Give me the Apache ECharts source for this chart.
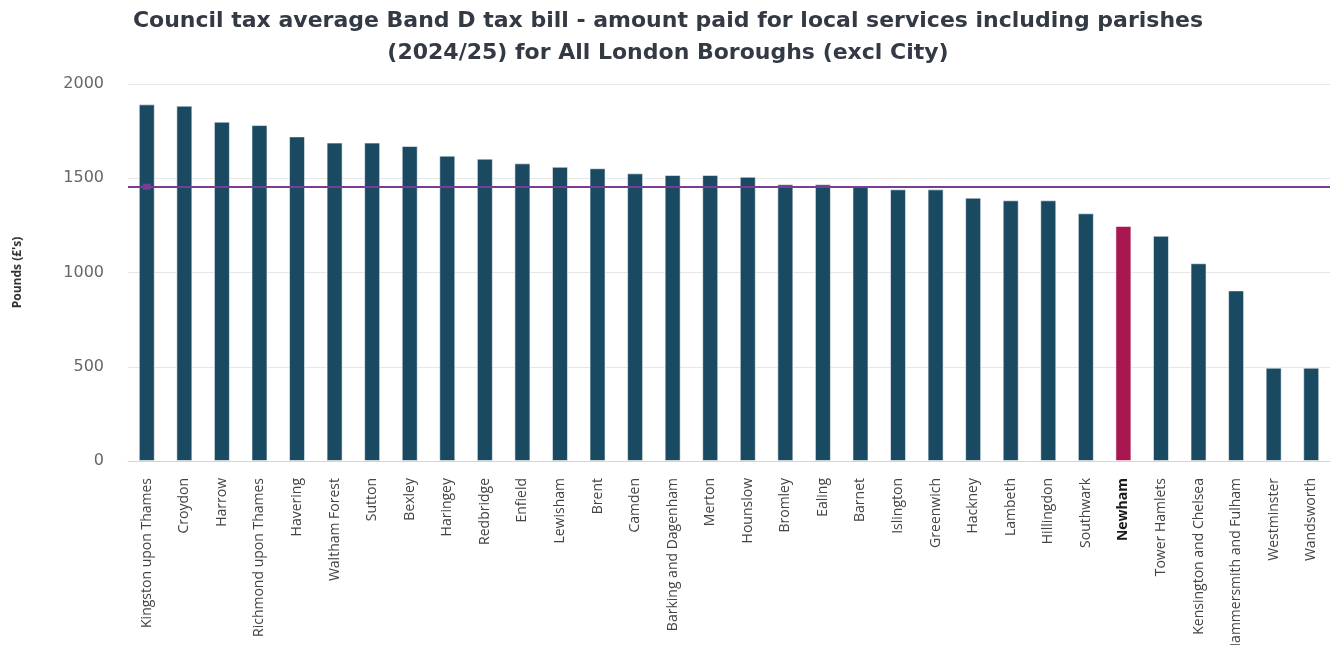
<!DOCTYPE html>
<html>
<head>
<meta charset="utf-8">
<script src="https://cdn.jsdelivr.net/npm/echarts@6/dist/echarts.min.js"></script>
<style>
  html, body { margin: 0; padding: 0; background: #fff; }
  #chart { width: 1336px; height: 645px; }
</style>
</head>
<body>
<div id="chart"></div>
<script>
// Band D council tax (incl. parishes), 2024/25, London boroughs excluding the City
const boroughs = [
  'Kingston upon Thames', 'Croydon', 'Harrow', 'Richmond upon Thames', 'Havering',
  'Waltham Forest', 'Sutton', 'Bexley', 'Haringey', 'Redbridge', 'Enfield',
  'Lewisham', 'Brent', 'Camden', 'Barking and Dagenham', 'Merton', 'Hounslow',
  'Bromley', 'Ealing', 'Barnet', 'Islington', 'Greenwich', 'Hackney', 'Lambeth',
  'Hillingdon', 'Southwark', 'Newham', 'Tower Hamlets', 'Kensington and Chelsea',
  'Hammersmith and Fulham', 'Westminster', 'Wandsworth'
];
const bandD = [
  1892, 1885, 1800, 1782, 1722, 1689, 1689, 1671, 1620, 1604, 1579,
  1561, 1553, 1526, 1517, 1517, 1508, 1468, 1468, 1457, 1441, 1441,
  1397, 1383, 1383, 1314, 1247, 1195, 1049, 905, 495, 495
];
const londonAverage = 1455;
const highlighted = 'Newham';
const yTicks = { min: 0, max: 2000, interval: 500 };

const barColor = '#1a4a62';
const highlightColor = '#a8174f';
const avgColor = '#7b3c96';

const chart = echarts.init(document.getElementById('chart'), null, { renderer: 'canvas' });

chart.setOption({
  animation: false,
  backgroundColor: '#ffffff',
  title: {
    text: 'Council tax average Band D tax bill - amount paid for local services including parishes\n(2024/25) for All London Boroughs (excl City)',
    left: 'center',
    top: 0,
    textStyle: {
      fontFamily: 'DejaVu Sans',
      fontWeight: 'bold',
      fontSize: 22,
      color: '#333a44',
      lineHeight: 32
    }
  },
  grid: {
    left: 128, right: 6, top: 84, bottom: 184,
    containLabel: false,
    outerBoundsMode: 'none'
  },
  xAxis: {
    type: 'category',
    data: boroughs,
    axisLine: { show: true, lineStyle: { color: '#ccd6eb', width: 1 } },
    axisTick: { show: false },
    axisLabel: {
      interval: 0,
      rotate: 90,
      margin: 17,
      fontFamily: 'Open Sans',
      fontSize: 14,
      color: '#444444',
      formatter: v => v === highlighted ? '{hl|' + v + '}' : v,
      rich: {
        hl: { fontFamily: 'Open Sans', fontSize: 14, fontWeight: 'bold', color: '#1a1a1a' }
      }
    }
  },
  yAxis: {
    type: 'value',
    min: yTicks.min,
    max: yTicks.max,
    interval: yTicks.interval,
    name: "Pounds (£'s)",
    nameLocation: 'middle',
    nameGap: 104,
    nameRotate: 90,
    nameTextStyle: {
      fontFamily: 'Open Sans',
      fontWeight: 'bold',
      fontSize: 12,
      color: '#333333'
    },
    axisLine: { show: false },
    axisTick: { show: false },
    axisLabel: {
      margin: 24,
      fontFamily: 'DejaVu Sans',
      fontSize: 16,
      color: '#666666',
      formatter: v => String(v)
    },
    splitLine: { lineStyle: { color: '#e6e6e6', width: 1 } }
  },
  series: [
    {
      type: 'bar',
      name: 'Band D',
      barWidth: 16,
      data: bandD.map((v, i) => ({
        value: v,
        itemStyle: { color: boroughs[i] === highlighted ? highlightColor : barColor }
      })),
      itemStyle: { borderColor: 'rgba(255,255,255,0.55)', borderWidth: 1 },
      markLine: {
        silent: true,
        symbol: ['none', 'none'],
        label: { show: false },
        lineStyle: { color: avgColor, width: 2, type: 'solid' },
        data: [{ yAxis: londonAverage }]
      },
      markPoint: {
        silent: true,
        symbol: 'rect',
        symbolSize: [8, 6],
        itemStyle: { color: avgColor },
        label: { show: false },
        data: [{ coord: [0, londonAverage] }]
      }
    }
  ]
});
</script>
</body>
</html>
